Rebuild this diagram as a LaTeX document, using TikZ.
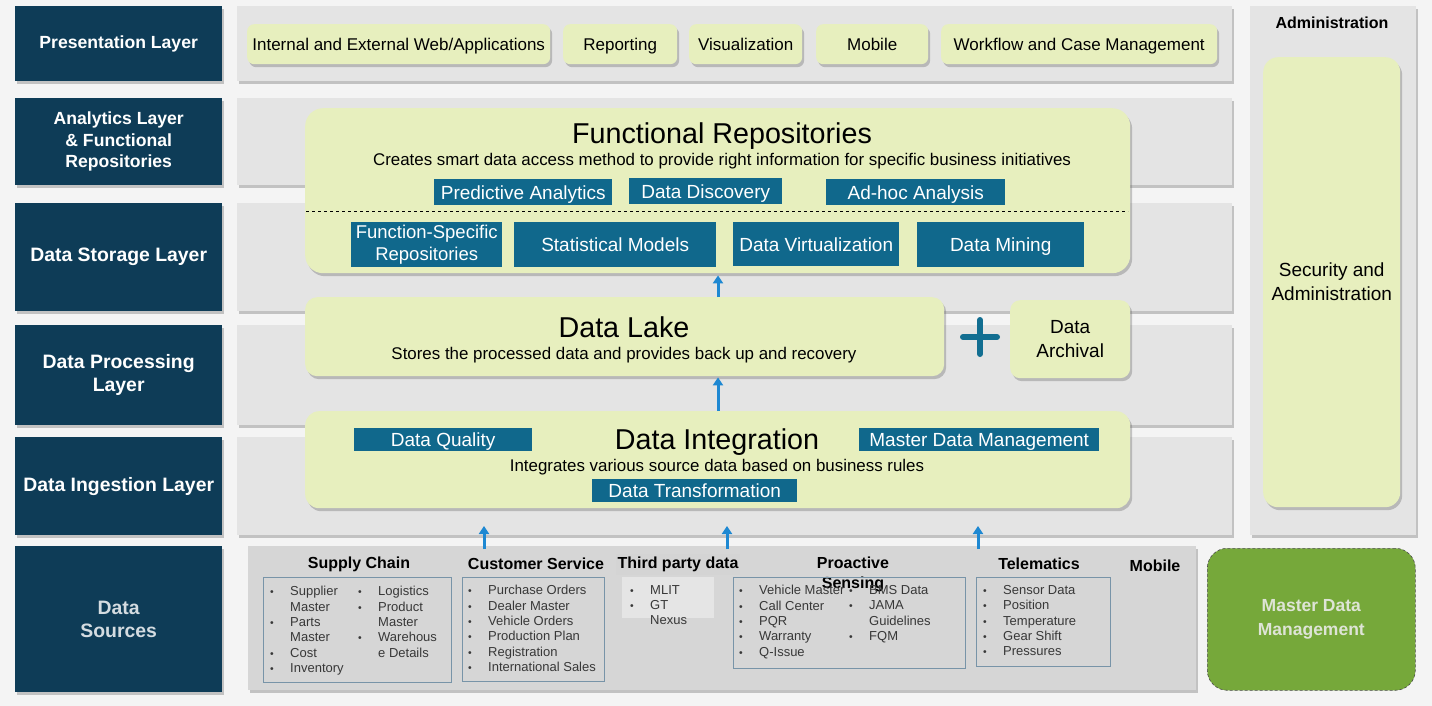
\documentclass[tikz,border=0pt]{standalone}
\usepackage{fontspec}
\setmainfont{Liberation Sans}
\usetikzlibrary{shadows,arrows.meta}
\definecolor{pagebg}{RGB}{244,244,244}
\definecolor{navy}{RGB}{14,60,87}
\definecolor{bandgray}{RGB}{228,228,228}
\definecolor{srcgray}{RGB}{214,214,214}
\definecolor{pale}{RGB}{231,239,190}
\definecolor{bluebox}{RGB}{16,104,140}
\definecolor{arrblue}{RGB}{30,136,210}
\definecolor{mdmgreen}{RGB}{118,168,58}
\definecolor{listborder}{RGB}{120,148,168}
\definecolor{plusteal}{RGB}{18,110,145}
\newcommand{\bl}{\makebox[20pt][l]{\scalebox{0.8}{•}}}
\newcommand{\nbl}{\hspace*{20pt}}
\begin{document}
\begin{tikzpicture}[x=1pt,y=-1pt,
  shd/.style={drop shadow={shadow xshift=2pt,shadow yshift=-3pt,opacity=0.35,fill=black!60}},
  layer/.style={fill=navy,text=white,font=\bfseries\fontsize{19.4}{23}\selectfont,align=center,anchor=north west,inner sep=0pt,shd},
  layersm/.style={layer,font=\bfseries\fontsize{17.6}{21.5}\selectfont},
  band/.style={fill=bandgray,anchor=north west,inner sep=0pt,shd},
  pbox/.style={fill=pale,rounded corners=7pt,anchor=north west,inner sep=0pt,align=center,shd},
  bbox/.style={fill=bluebox,text=white,anchor=north west,inner sep=0pt,align=center,font=\fontsize{19}{20}\selectfont,text height=13.6pt,text depth=0pt},
  ptext/.style={font=\fontsize{17}{20}\selectfont,text height=12.2pt,text depth=0pt},
  ttl/.style={font=\fontsize{28.7}{30}\selectfont},
  sub/.style={font=\fontsize{16.9}{19}\selectfont},
  hd/.style={font=\bfseries\fontsize{16}{19}\selectfont,inner sep=0pt},
  lst/.style={draw=listborder,line width=0.8pt,anchor=north west,inner sep=0pt},
  ltxt/.style={anchor=north west,align=left,inner sep=0pt,font=\fontsize{13}{15.4}\selectfont,text=black!78},
  arr/.style={draw=arrblue,line width=3pt,-{Triangle[length=8pt,width=10pt]}}
]
\useasboundingbox (0,0) rectangle (1432,706);
\fill[pagebg] (0,0) rectangle (1432,706);

% left layer labels
\node[layersm,minimum width=207pt,minimum height=75pt] (lpres) at (15,6) {Presentation Layer};
\node[layersm,minimum width=207pt,minimum height=87pt] (lanal) at (15,98) {Analytics Layer\\\& Functional\\Repositories};
\node[layer,minimum width=207pt,minimum height=108pt] (lstor) at (15,203) {Data Storage Layer};
\node[layer,minimum width=207pt,minimum height=100pt] (lproc) at (15,325) {Data Processing\\Layer};
\node[layer,minimum width=207pt,minimum height=98pt] (linge) at (15,437) {Data Ingestion Layer};
\node[layer,minimum width=207pt,minimum height=146pt,text=white!82!navy] (lsrc) at (15,546) {Data\\Sources};

% bands
\node[band,minimum width=995pt,minimum height=75pt] (bpres) at (237,6) {};
\node[band,minimum width=995pt,minimum height=87pt] (banal) at (237,98) {};
\node[band,minimum width=995pt,minimum height=108pt] (bstor) at (237,203) {};
\node[band,minimum width=995pt,minimum height=100pt] (bproc) at (237,325) {};
\node[band,minimum width=995pt,minimum height=98pt] (binge) at (237,437) {};
\node[band,fill=srcgray,minimum width=948pt,minimum height=144pt] (src) at (248,546) {};

% administration column
\node[band,minimum width=166pt,minimum height=529pt] (admin) at (1250,6) {};
\node[hd] (admt) at (1332,23) {Administration};
\node[pbox,rounded corners=15pt,minimum width=137pt,minimum height=450pt,font=\fontsize{19}{24}\selectfont] (sec) at (1263,57) {Security and\\Administration};

% master data management
\node[fill=mdmgreen,draw=black!70,densely dashed,line width=0.6pt,rounded corners=20pt,anchor=north west,inner sep=0pt,minimum width=208pt,minimum height=142pt,align=center,text={rgb,255:red,222;green,228;blue,214},font=\bfseries\fontsize{17.5}{24}\selectfont] (mdm) at (1207,548) {Master Data\\Management};

% presentation items
\node[pbox,ptext,minimum width=303pt,minimum height=40pt] (web) at (247,24) {Internal and External Web/Applications};
\node[pbox,ptext,minimum width=114pt,minimum height=40pt] (rep) at (563,24) {Reporting};
\node[pbox,ptext,minimum width=113pt,minimum height=40pt] (vis) at (689,24) {Visualization};
\node[pbox,ptext,minimum width=112pt,minimum height=40pt] (mob) at (816,24) {Mobile};
\node[pbox,ptext,minimum width=276pt,minimum height=40pt] (wf) at (941,24) {Workflow and Case Management};

% functional repositories
\node[pbox,rounded corners=18pt,minimum width=825pt,minimum height=165pt] (fr) at (305,108) {};
\node[ttl,inner sep=0pt] (frt) at (722,136) {Functional Repositories};
\node[sub,inner sep=0pt] (frs) at (722,161) {Creates smart data access method to provide right information for specific business initiatives};
\node[bbox,minimum width=178pt,minimum height=26pt] (pa) at (434,179) {Predictive Analytics};
\node[bbox,minimum width=153pt,minimum height=26pt] (dd) at (629,178) {Data Discovery};
\node[bbox,minimum width=179pt,minimum height=26pt] (ah) at (826,179) {Ad-hoc Analysis};
\coordinate (dl1) at (306,211);
\coordinate (dl2) at (1128,211);
\draw[dashed,line width=0.7pt] (dl1) -- (dl2);
\node[bbox,text height=,text depth=,minimum width=151pt,minimum height=45pt,font=\fontsize{18.5}{21.5}\selectfont] (fsr) at (351,222) {Function-Specific\\Repositories};
\node[bbox,minimum width=202pt,minimum height=45pt] (sm) at (514,222) {Statistical Models};
\node[bbox,minimum width=166pt,minimum height=44pt] (dv) at (733,222) {Data Virtualization};
\node[bbox,minimum width=167pt,minimum height=45pt] (dm) at (917,222) {Data Mining};

% data lake
\node[pbox,rounded corners=12pt,minimum width=639pt,minimum height=79pt] (lake) at (305,297) {};
\node[ttl,inner sep=0pt] (lakt) at (624,327) {Data Lake};
\node[sub,inner sep=0pt] (laks) at (624,355) {Stores the processed data and provides back up and recovery};
\coordinate (plus) at (980,337);
\draw[plusteal,line width=6pt,line cap=round] ([xshift=-17pt]plus) -- ([xshift=17pt]plus);
\draw[plusteal,line width=6pt,line cap=round] ([yshift=17pt]plus) -- ([yshift=-17pt]plus);
\node[pbox,rounded corners=10pt,minimum width=120pt,minimum height=78pt,font=\fontsize{19}{24}\selectfont] (arch) at (1010,300) {Data\\Archival};

% data integration
\node[pbox,rounded corners=14pt,minimum width=825pt,minimum height=97pt] (integ) at (305,411) {};
\node[ttl,inner sep=0pt] (intt) at (717,442) {Data Integration};
\node[sub,inner sep=0pt] (ints) at (717,467) {Integrates various source data based on business rules};
\node[bbox,minimum width=178pt,minimum height=23pt] (dq) at (354,428) {Data Quality};
\node[bbox,minimum width=240pt,minimum height=23pt] (mdmb) at (859,428) {Master Data Management};
\node[bbox,minimum width=205pt,minimum height=23pt] (dt) at (592,479) {Data Transformation};

% arrows between layers
\draw[arr] (lake.north -| 718,0) -- ([yshift=-2pt]fr.south -| 718,0);
\draw[arr] (integ.north -| 718,0) -- ([yshift=-1pt]lake.south -| 718,0);
\coordinate (s1) at (484,549);
\coordinate (s2) at (727,549);
\coordinate (s3) at (978,549);
\draw[arr] (s1) -- ++(0,-23);
\draw[arr] (s2) -- ++(0,-23);
\draw[arr] (s3) -- ++(0,-23);

% data sources headings
\node[hd] (hsc) at (359,564) {Supply Chain};
\node[hd] (hcs) at (536,564) {Customer Service};
\node[fill=black!17,anchor=north west,inner sep=0pt,minimum width=124pt,minimum height=21pt] (tpbg) at (616,554) {};
\node[hd] (htp) at (678,564) {Third party data};
\node[hd,align=center,font=\bfseries\fontsize{16}{20}\selectfont] (hps) at (853,574) {Proactive\\Sensing};
\node[hd] (htl) at (1039,564) {Telematics};
\node[hd] (hmo) at (1155,566) {Mobile};

% lists
\node[lst,minimum width=188pt,minimum height=105pt] (lsc) at (263,577) {};
\node[ltxt] (lsc1) at (270,586) {\bl Supplier\\\nbl Master\\\bl Parts\\\nbl Master\\\bl Cost\\\bl Inventory};
\node[ltxt] (lsc2) at (358,586) {\bl Logistics\\\bl Product\\\nbl Master\\\bl Warehous\\\nbl e Details};

\node[lst,minimum width=142pt,minimum height=104pt] (lcs) at (462,577) {};
\node[ltxt] (lcs1) at (468,585) {\bl Purchase Orders\\\bl Dealer Master\\\bl Vehicle Orders\\\bl Production Plan\\\bl Registration\\\bl International Sales};

\node[fill=black!10,anchor=north west,inner sep=0pt,minimum width=92pt,minimum height=41pt] (ltp) at (622,577) {};
\node[ltxt] (ltp1) at (630,585) {\bl MLIT\\\bl GT\\\nbl Nexus};

\node[lst,minimum width=232pt,minimum height=91pt] (lps) at (733,577) {};
\node[ltxt] (lps1) at (739,585) {\bl Vehicle Master\\\bl Call Center\\\bl PQR\\\bl Warranty\\\bl Q-Issue};
\node[ltxt] (lps2) at (849,585) {\bl BMS Data\\\bl JAMA\\\nbl Guidelines\\\bl FQM};

\node[lst,minimum width=134pt,minimum height=89pt] (ltl) at (976,577) {};
\node[ltxt] (ltl1) at (983,585) {\bl Sensor Data\\\bl Position\\\bl Temperature\\\bl Gear Shift\\\bl Pressures};
\end{tikzpicture}
\end{document}
